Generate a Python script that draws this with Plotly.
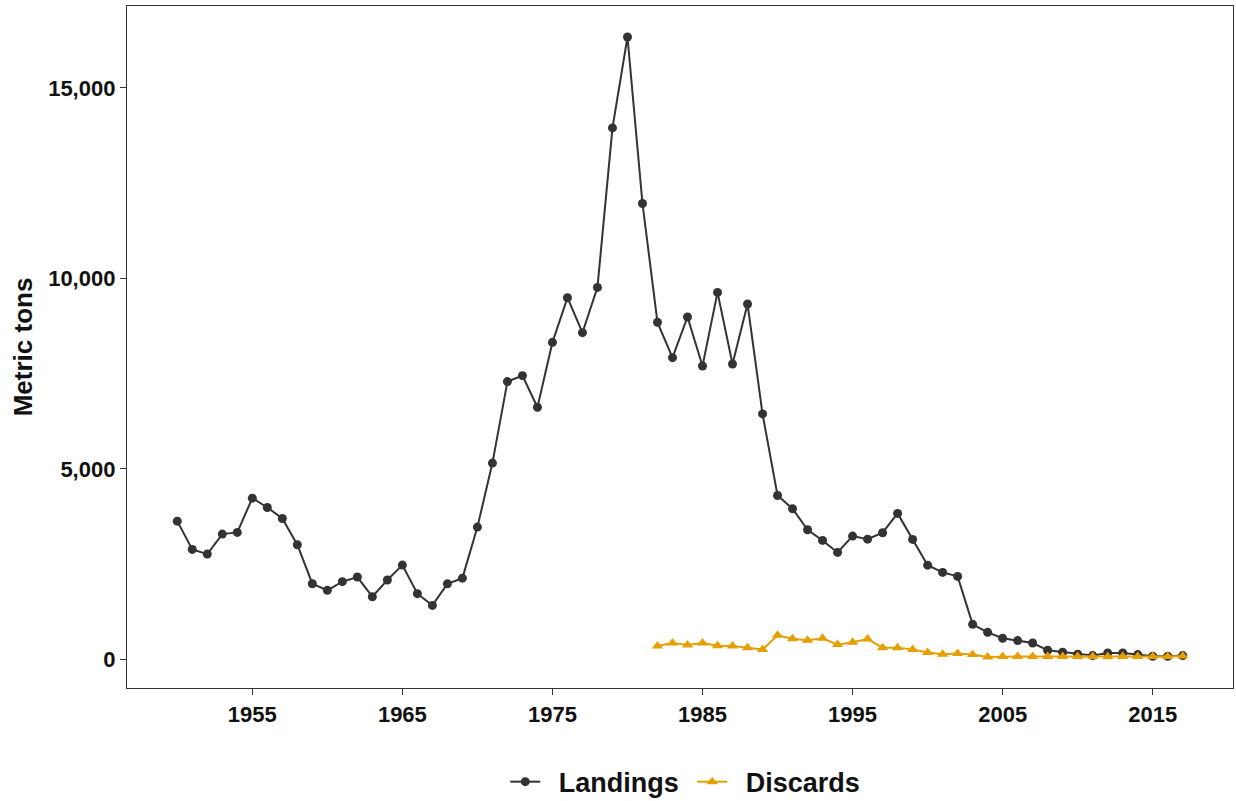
import plotly.graph_objects as go

# Annual landings, 1950-2017 (metric tons)
landing_years = list(range(1950, 2018))
landings = [
    3626, 2884, 2761, 3286, 3330, 4230, 3985, 3697, 3007, 1984,
    1809, 2037, 2159, 1643, 2080, 2473, 1722, 1415, 1980, 2130,
    3470, 5150, 7289, 7446, 6615, 8320, 9491, 8574, 9762, 13949,
    16335, 11964, 8844, 7918, 8985, 7700, 9631, 7752, 9326, 6442,
    4300, 3951, 3400, 3120, 2805, 3233, 3154, 3322, 3830, 3146,
    2470, 2280, 2176, 918, 708, 551, 490, 428, 236, 184,
    131, 97, 165, 165, 123, 79, 79, 97,
]

# Annual discards, 1982-2017 (metric tons)
discard_years = list(range(1982, 2018))
discards = [
    350, 427, 375, 427, 358, 350, 306, 254, 629, 542,
    498, 551, 385, 446, 533, 306, 300, 260, 180, 131,
    149, 123, 60, 75, 75, 75, 75, 75, 75, 75,
    65, 75, 75, 75, 75, 85,
]

x_tick_vals = [1955, 1965, 1975, 1985, 1995, 2005, 2015]
y_tick_vals = [0, 5000, 10000, 15000]
y_tick_text = ["0", "5,000", "10,000", "15,000"]

LANDINGS_COLOR = "#333333"
DISCARDS_COLOR = "#E69F00"
FONT = "Liberation Sans, Arial, sans-serif"
KEY_GAP = "\u2002"  # small space between legend key and its label


def padded(lo, hi, frac=0.05):
    span = hi - lo
    return [lo - frac * span, hi + frac * span]


all_years = landing_years + discard_years
all_vals = landings + discards

fig = go.Figure()
fig.add_trace(go.Scatter(
    x=landing_years, y=landings, name=KEY_GAP + "Landings",
    mode="lines+markers",
    line=dict(color=LANDINGS_COLOR, width=2),
    marker=dict(symbol="circle", size=9, color=LANDINGS_COLOR),
))
fig.add_trace(go.Scatter(
    x=discard_years, y=discards, name=KEY_GAP + "Discards",
    mode="lines+markers",
    line=dict(color=DISCARDS_COLOR, width=2),
    marker=dict(symbol="triangle-up", size=10, color=DISCARDS_COLOR),
))

axis_common = dict(
    showgrid=False, zeroline=False,
    showline=True, mirror=True, linecolor="#333333", linewidth=1.3,
    ticks="outside", ticklen=6, tickwidth=1.3, tickcolor="#333333",
    tickfont=dict(family=FONT, size=22, color="#111111", weight="bold"),
)

fig.update_xaxes(
    range=padded(min(all_years), max(all_years)),
    tickvals=x_tick_vals,
    **axis_common,
)
fig.update_yaxes(
    range=padded(min(all_vals), max(all_vals)),
    tickvals=y_tick_vals, ticktext=y_tick_text,
    title=dict(text="Metric tons", standoff=8,
               font=dict(family=FONT, size=26, color="#111111", weight="bold")),
    **axis_common,
)

fig.update_layout(
    width=1236, height=801,
    margin=dict(l=127, r=3, t=6, b=113, autoexpand=False),
    paper_bgcolor="white", plot_bgcolor="white",
    showlegend=True,
    legend=dict(
        orientation="h", x=0.342, xanchor="left", y=-0.138, yanchor="middle",
        font=dict(family=FONT, size=27, color="#111111", weight="bold"),
        itemwidth=30, entrywidth=142, entrywidthmode="pixels",
    ),
)

fig.write_html("out.html")
